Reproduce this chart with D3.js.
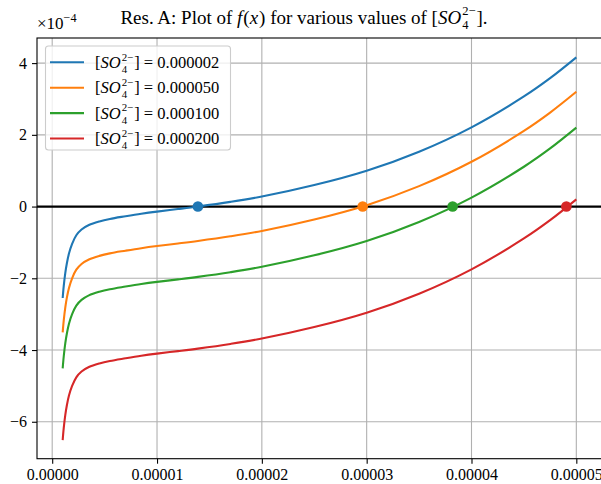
<!DOCTYPE html>
<html><head><meta charset="utf-8">
<script src="https://cdn.jsdelivr.net/npm/d3@7"></script>
<style>
html,body{margin:0;padding:0;background:#fff;}
svg text{font-family:"Liberation Serif","DejaVu Serif",serif;fill:#000;white-space:pre;}
</style></head>
<body><svg id="chart" width="601" height="484"></svg>
<script>
// ---- data (y values in units of 1e-4) ----
const xValues = [0.000001,0.0000011,0.00000125,0.0000014,0.0000016,0.0000019,0.0000023,0.0000028,0.0000035,0.0000045,0.0000055,0.000007,0.0000085,0.00001,0.000012,0.0000139,0.000017,0.00002,0.000025,0.00003,0.000035,0.00004,0.000045,0.0000475,0.00005];
const so4Labels = ["0.000002","0.000050","0.000100","0.000200"];
const seriesA = [-2.55,-2.22,-1.85,-1.58,-1.31,-1.04,-0.80,-0.64,-0.515,-0.415,-0.345,-0.27,-0.20,-0.14,-0.07,0.00,0.13,0.28,0.60,1.00,1.53,2.21,3.07,3.58,4.16];
const seriesB = [-3.51,-3.18,-2.81,-2.54,-2.27,-2.00,-1.76,-1.60,-1.475,-1.375,-1.305,-1.23,-1.16,-1.10,-1.03,-0.96,-0.83,-0.68,-0.36,0.04,0.57,1.25,2.11,2.62,3.20];
const seriesC = [-4.51,-4.18,-3.81,-3.54,-3.27,-3.00,-2.76,-2.60,-2.475,-2.375,-2.305,-2.23,-2.16,-2.10,-2.03,-1.96,-1.83,-1.68,-1.36,-0.96,-0.43,0.25,1.11,1.62,2.20];
const seriesD = [-6.51,-6.18,-5.81,-5.54,-5.27,-5.00,-4.76,-4.60,-4.475,-4.375,-4.305,-4.23,-4.16,-4.10,-4.03,-3.96,-3.83,-3.68,-3.36,-2.96,-2.43,-1.75,-0.89,-0.38,0.20];
const rootX = [0.0000139,0.00002962,0.0000382,0.00004905];
const xTicks = [0,0.00001,0.00002,0.00003,0.00004,0.00005];
const xTickLabels = ["0.00000","0.00001","0.00002","0.00003","0.00004","0.00005"];
const yTicks = [-6,-4,-2,0,2,4];
const yTickLabels = ["\u22126","\u22124","\u22122","0","2","4"];
const colors = ["#1f77b4","#ff7f0e","#2ca02c","#d62728"];

const allSeries = [seriesA,seriesB,seriesC,seriesD];

const L=37, R=602, T=38, B=458.7;
const svg = d3.select("#chart");
const x = d3.scaleLinear().domain([-0.00000145,0.00005245]).range([L,R]);
const y = d3.scaleLinear().domain([-7.03,4.70]).range([B,T]);

svg.append("defs").append("clipPath").attr("id","clip")
  .append("rect").attr("x",L).attr("y",T).attr("width",R-L).attr("height",B-T);

// grid
const grid = svg.append("g");
grid.selectAll(".gx").data(xTicks).join("line")
  .attr("x1",d=>x(d)).attr("x2",d=>x(d)).attr("y1",T).attr("y2",B)
  .attr("stroke","#b0b0b0").attr("stroke-width",1.1);
grid.selectAll(".gy").data(yTicks).join("line")
  .attr("x1",L).attr("x2",R).attr("y1",d=>y(d)).attr("y2",d=>y(d))
  .attr("stroke","#b0b0b0").attr("stroke-width",1.1);

const plot = svg.append("g").attr("clip-path","url(#clip)");
// zero line
plot.append("line").attr("x1",L).attr("x2",R).attr("y1",y(0)).attr("y2",y(0))
  .attr("stroke","#000").attr("stroke-width",2.2);

const line = d3.line().x((d,i)=>x(xValues[i])).y(d=>y(d)).curve(d3.curveCatmullRom.alpha(0.5));
allSeries.forEach((s,k)=>{
  plot.append("path").attr("d",line(s)).attr("fill","none")
    .attr("stroke",colors[k]).attr("stroke-width",2.1).attr("stroke-linecap","butt");
});
rootX.forEach((r,k)=>{
  plot.append("circle").attr("cx",x(r)).attr("cy",y(0)).attr("r",5.3).attr("fill",colors[k]);
});

// axes
const xAxis = d3.axisBottom(x).tickValues(xTicks).tickFormat((d,i)=>xTickLabels[i]).tickSize(5).tickPadding(5);
const yAxis = d3.axisLeft(y).tickValues(yTicks).tickFormat((d,i)=>yTickLabels[i]).tickSize(5).tickPadding(5);
const gx = svg.append("g").attr("transform",`translate(0,${B})`).call(xAxis);
const gy = svg.append("g").attr("transform",`translate(${L},0)`).call(yAxis);
[gx,gy].forEach(g=>{
  g.select(".domain").remove();
  g.selectAll(".tick line").attr("stroke","#000").attr("stroke-width",1.1);
  g.selectAll(".tick text").attr("font-size",16).attr("font-family",'"Liberation Serif",serif');
});
// spines
svg.append("rect").attr("x",L).attr("y",T).attr("width",R-L).attr("height",B-T)
  .attr("fill","none").attr("stroke","#000").attr("stroke-width",1.1);

// rich text helper
function rich(parent, px, py, pieces, size, anchor){
  const g = parent.append("g");
  let cx = 0;
  pieces.forEach(p=>{
    if (typeof p === "string") p = {t:p};
    if (p.stack){
      const fs = size*0.66;
      const a = g.append("text").attr("x",cx).attr("y",-size*0.44).attr("font-size",fs).text(p.stack[0]);
      const b = g.append("text").attr("x",cx).attr("y",size*0.3).attr("font-size",fs).text(p.stack[1]);
      cx += Math.max(a.node().getComputedTextLength(), b.node().getComputedTextLength()) + 1;
    } else if (p.sup){
      const a = g.append("text").attr("x",cx).attr("y",-size*0.42).attr("font-size",size*0.72).text(p.sup);
      cx += a.node().getComputedTextLength();
    } else {
      const t = g.append("text").attr("x",cx).attr("y",0).attr("font-size",size)
        .attr("font-style",p.i?"italic":null).text(p.t);
      cx += t.node().getComputedTextLength() + (p.i?1:0);
    }
  });
  const off = anchor==="middle" ? -cx/2 : anchor==="end" ? -cx : 0;
  g.attr("transform",`translate(${px+off},${py})`);
  return cx;
}

// title
rich(svg, 304, 23.5, ["Res. A: Plot of ",{t:"f",i:1},"(",{t:"x",i:1},") for various values of [",{t:"SO",i:1},{stack:["2\u2212","4"]},"]."], 19, "middle");
// offset text
rich(svg, 37, 29, ["\u00d710",{sup:"\u22124"}], 17, "start");

// legend
const lg = svg.append("g");
lg.append("rect").attr("x",45.5).attr("y",46).attr("width",185).attr("height",104).attr("rx",3)
  .attr("fill","#fff").attr("fill-opacity",0.8).attr("stroke","#cccccc").attr("stroke-width",1.1);
so4Labels.forEach((lab,k)=>{
  const yy = 62.3 + k*25.4;
  lg.append("line").attr("x1",50).attr("x2",84).attr("y1",yy).attr("y2",yy)
    .attr("stroke",colors[k]).attr("stroke-width",2.1);
  rich(lg, 95, yy+5.5, ["[",{t:"SO",i:1},{stack:["2\u2212","4"]},"] = "+lab], 16.5, "start");
});
</script></body></html>
